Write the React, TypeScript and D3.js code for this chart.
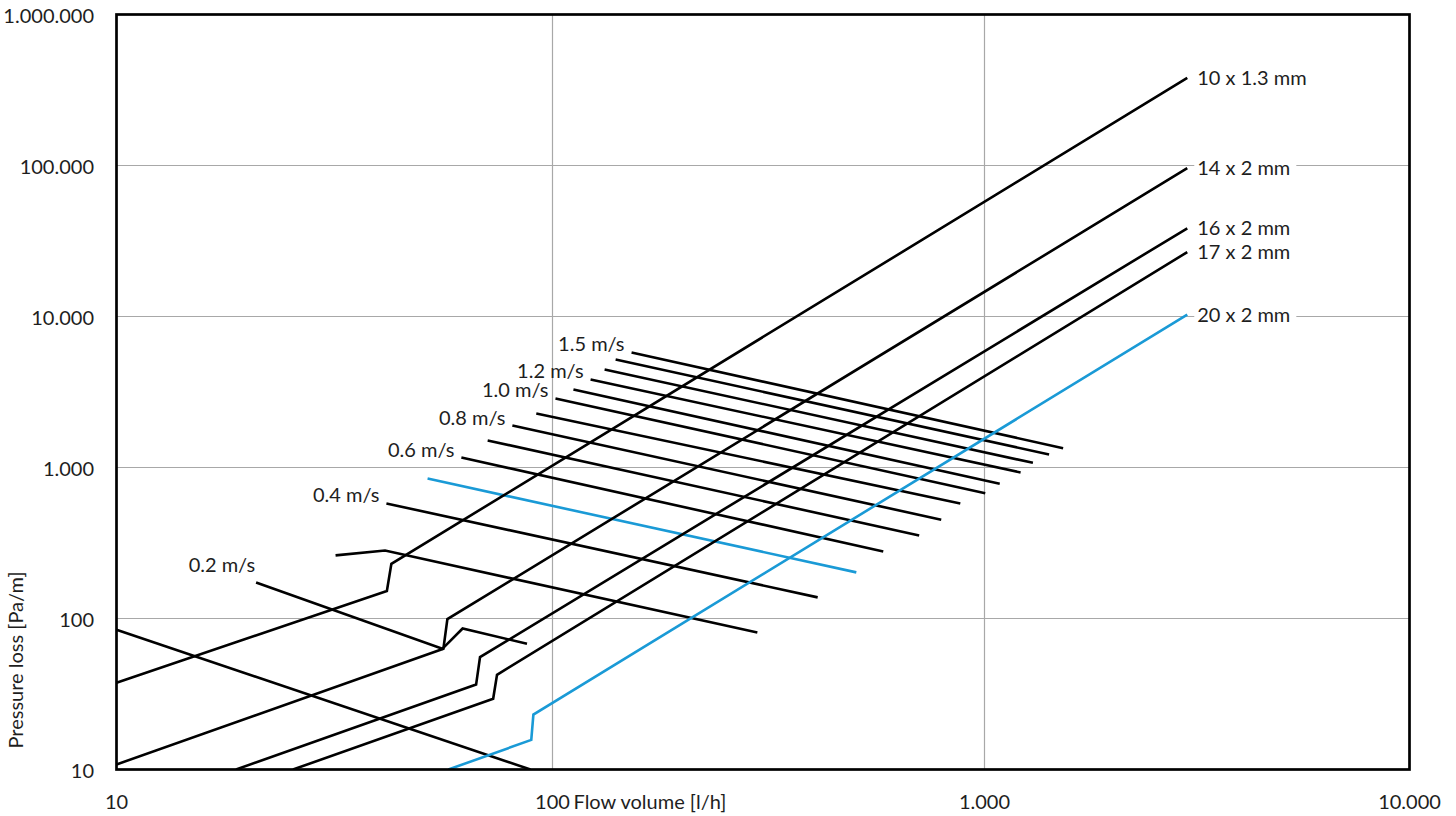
import React, { useEffect, useRef } from 'react';
import * as d3 from 'd3';

// pipe curves: flow volume [l/h] and pressure loss [Pa/m] at each corner of the curve
const pipeNames = ['10 x 1.3 mm', '14 x 2 mm', '16 x 2 mm', '17 x 2 mm', '20 x 2 mm'];
const pipeFlow = [
  [10, 41.7, 42.7, 3000],
  [10, 56.2, 57.4, 3000],
  [18.8, 66.8, 68.2, 3000],
  [25.4, 73.1, 74.6, 3000],
  [57.7, 89.4, 90.4, 3000]
];
const pipeLoss = [
  [37.5, 152, 230, 380000],
  [10.8, 63, 99, 96000],
  [10, 36.5, 55.5, 38400],
  [10, 29.4, 42.4, 26700],
  [10, 15.7, 23.1, 10300]
];

// constant velocity lines [m/s]
const velocities = [0.1, 0.2, 0.3, 0.4, 0.5, 0.6, 0.7, 0.8, 0.9, 1.0, 1.1, 1.2, 1.3, 1.4, 1.5];
const velocityLabels = ['', '0.2 m/s', '', '0.4 m/s', '', '0.6 m/s', '', '0.8 m/s', '', '1.0 m/s', '', '1.2 m/s', '', '', '1.5 m/s'];
const velocityFlow = [
  [10, 89.0],
  [20.9, 55.9, 62.2, 87.4],
  [31.8, 41.3, 298],
  [41.6, 411],
  [51.7, 505],
  [61.8, 583],
  [71.0, 706],
  [80.9, 794],
  [91.8, 879],
  [101.6, 1004],
  [111.8, 1086],
  [122.5, 1216],
  [132, 1300],
  [140, 1419],
  [152.4, 1531]
];
const velocityLoss = [
  [84.2, 10],
  [173, 63, 85.9, 68],
  [262, 282, 80.7],
  [578, 138],
  [845, 202],
  [1164, 278],
  [1510, 355],
  [1897, 451],
  [2280, 578],
  [2864, 676],
  [3289, 780],
  [3828, 927],
  [4458, 1074],
  [5190, 1219],
  [5780, 1343]
];

const xTicks = [10, 100, 1000, 10000];
const xTickLabels = ['10', '100', '1.000', '10.000'];
const yTicks = [10, 100, 1000, 10000, 100000, 1000000];
const yTickLabels = ['10', '100', '1.000', '10.000', '100.000', '1.000.000'];

const xTitle = 'Flow volume [l/h]';
const yTitle = 'Pressure loss [Pa/m]';

const highlightPipe = '20 x 2 mm';
const highlightVelocity = 0.5;

const W = 1456;
const H = 816;
const left = 116.5;
const right = 1409.5;
const top = 14.5;
const bottom = 769.5;
const font = 'Lato, "Noto Sans", sans-serif';
const fontSize = 20;
const blue = '#1a9ad6';
const ink = '#1e1e1e';

export default function App() {
  const ref = useRef<SVGSVGElement>(null);

  useEffect(() => {
    document.body.style.margin = '0';
    const svg = d3.select(ref.current);
    svg.selectAll('*').remove();

    // the printed chart's decades are not quite even, so the log scale is piecewise
    const x = d3.scaleLog().domain(xTicks).range([left, 552.5, 984.5, right]);
    const y = d3.scaleLog().domain([10, 1000000]).range([bottom, top]);

    svg.append('defs').append('clipPath').attr('id', 'plot')
      .append('rect')
      .attr('x', left).attr('y', top)
      .attr('width', right - left).attr('height', bottom - top);

    // grid
    const grid = svg.append('g').attr('stroke', '#a8a8a8').attr('stroke-width', 1.2);
    grid.selectAll('.gx').data(xTicks.slice(1, -1)).enter().append('line')
      .attr('x1', d => x(d)).attr('x2', d => x(d))
      .attr('y1', top).attr('y2', bottom);
    grid.selectAll('.gy').data(yTicks.slice(1, -1)).enter().append('line')
      .attr('y1', d => y(d)).attr('y2', d => y(d))
      .attr('x1', left).attr('x2', right);

    const line = d3.line<[number, number]>()
      .x(d => x(d[0]))
      .y(d => y(d[1]));

    const plot = svg.append('g').attr('clip-path', 'url(#plot)')
      .attr('fill', 'none').attr('stroke-width', 2.6);

    // velocity lines
    velocities.forEach((v, i) => {
      const pts = velocityFlow[i].map((q, j) => [q, velocityLoss[i][j]] as [number, number]);
      plot.append('path')
        .attr('d', line(pts))
        .attr('stroke', v === highlightVelocity ? blue : '#000');
    });

    // pipe curves
    pipeNames.forEach((name, i) => {
      const pts = pipeFlow[i].map((q, j) => [q, pipeLoss[i][j]] as [number, number]);
      plot.append('path')
        .attr('d', line(pts))
        .attr('stroke', name === highlightPipe ? blue : '#000');
    });

    // velocity labels
    velocities.forEach((v, i) => {
      if (!velocityLabels[i]) return;
      const lift = v === 0.2 ? 19 : 9;
      const nudge = v === 0.2 ? 1 : 7;
      svg.append('text')
        .attr('x', x(velocityFlow[i][0]) - nudge)
        .attr('y', y(velocityLoss[i][0]) - lift)
        .attr('text-anchor', 'end')
        .attr('dominant-baseline', 'central')
        .attr('font-family', font)
        .attr('font-size', fontSize)
        .attr('fill', ink)
        .text(velocityLabels[i]);
    });

    // pipe labels with a white patch that breaks the grid line
    pipeNames.forEach((name, i) => {
      const n = pipeFlow[i].length - 1;
      const tx = x(pipeFlow[i][n]) + 10;
      const ty = y(pipeLoss[i][n]) - 1;
      const bg = svg.append('rect').attr('fill', '#fff');
      const t = svg.append('text')
        .attr('x', tx).attr('y', ty)
        .attr('dominant-baseline', 'central')
        .attr('font-family', font)
        .attr('font-size', fontSize)
        .attr('fill', ink)
        .text(name);
      const w = (t.node() as SVGTextElement).getComputedTextLength();
      bg.attr('x', tx - 3).attr('y', ty - 10).attr('width', w + 9).attr('height', 20);
    });

    // frame
    svg.append('rect')
      .attr('x', left).attr('y', top)
      .attr('width', right - left).attr('height', bottom - top)
      .attr('fill', 'none').attr('stroke', '#000').attr('stroke-width', 2.7);

    // axis labels
    svg.selectAll('.xl').data(xTicks).enter().append('text')
      .attr('x', d => x(d)).attr('y', 801)
      .attr('text-anchor', 'middle')
      .attr('dominant-baseline', 'central')
      .attr('font-family', font).attr('font-size', fontSize).attr('fill', ink)
      .text((d, i) => xTickLabels[i]);

    svg.selectAll('.yl').data(yTicks).enter().append('text')
      .attr('x', 94).attr('y', d => y(d))
      .attr('text-anchor', 'end')
      .attr('dominant-baseline', 'central')
      .attr('font-family', font).attr('font-size', fontSize).attr('fill', ink)
      .text((d, i) => yTickLabels[i]);

    svg.append('text')
      .attr('x', x(100) + 21).attr('y', 801)
      .attr('dominant-baseline', 'central')
      .attr('font-family', font).attr('font-size', fontSize).attr('fill', ink)
      .text(xTitle);

    svg.append('text')
      .attr('transform', `translate(15, 660) rotate(-90)`)
      .attr('text-anchor', 'middle')
      .attr('dominant-baseline', 'central')
      .attr('font-family', font).attr('font-size', 20).attr('fill', ink)
      .text(yTitle);
  }, []);

  return <svg ref={ref} width={W} height={H} style={{ display: 'block', background: '#fff' }} />;
}
